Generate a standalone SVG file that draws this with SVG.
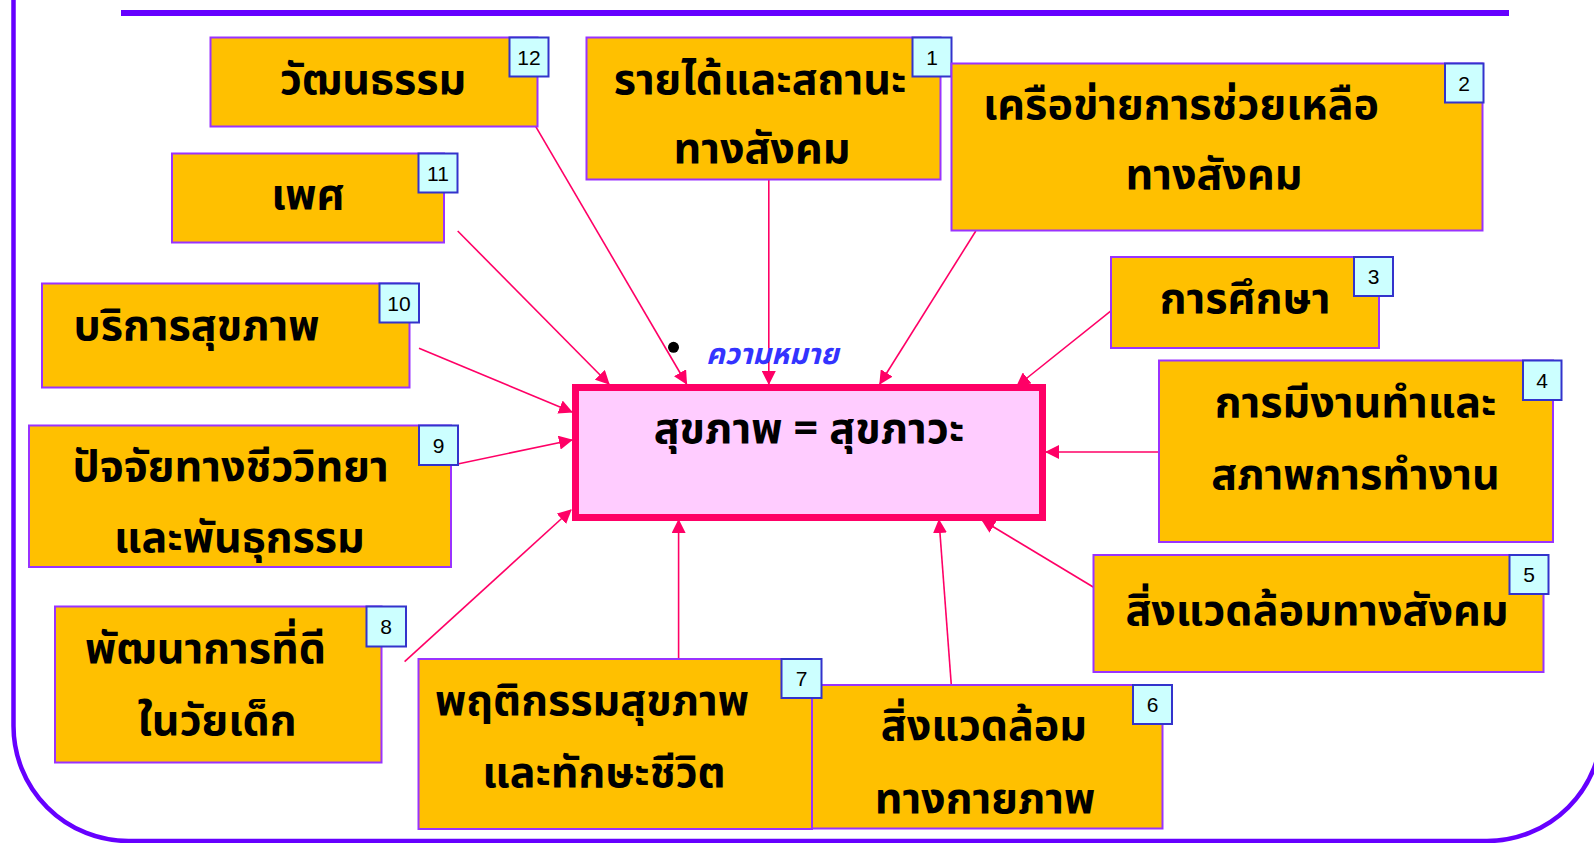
<svg xmlns="http://www.w3.org/2000/svg" width="1594" height="843" viewBox="0 0 1594 843">
<style>
.box{fill:#FFC000;stroke:#9933FF;stroke-width:2}
.badge{fill:#CCFFFF;stroke:#3333CC;stroke-width:2}
.num{font-family:"Liberation Sans",Arial,sans-serif;font-size:21px;fill:#000;text-anchor:middle}
.t{font-family:"Noto Sans Thai","Noto Sans","DejaVu Sans",sans-serif;font-weight:bold;font-size:43px;fill:#000;text-anchor:middle}
.con{stroke:#FF0066;stroke-width:1.6;fill:none;marker-end:url(#ah)}
</style>
<defs>
<marker id="ah" markerUnits="userSpaceOnUse" markerWidth="14" markerHeight="14" viewBox="0 0 14 14" refX="13" refY="7" orient="auto">
<path d="M0,0 L14,7 L0,14 Z" fill="#FF0066"/>
</marker>
</defs>
<rect width="1594" height="843" fill="#FFFFFF"/>
<path d="M13.5,-5 L13.5,726 A115,115 0 0 0 128.5,841 L1487,841 A115,115 0 0 0 1602,726 L1602,-5" fill="none" stroke="#6600FF" stroke-width="4.5"/>
<line x1="121" y1="13" x2="1509" y2="13" stroke="#6600FF" stroke-width="6"/>

<g id="connectors">
<line class="con" x1="535.8" y1="126.7" x2="686.6" y2="384"/>
<line class="con" x1="457.7" y1="231" x2="609" y2="384"/>
<line class="con" x1="768.8" y1="179.3" x2="768.8" y2="384"/>
<line class="con" x1="975.8" y1="231" x2="879.8" y2="384"/>
<line class="con" x1="1135" y1="291.7" x2="1017" y2="386"/>
<line class="con" x1="1184.5" y1="452" x2="1046" y2="452"/>
<line class="con" x1="1093.6" y1="587.3" x2="982" y2="520"/>
<line class="con" x1="951.3" y1="685" x2="939" y2="520"/>
<line class="con" x1="678.6" y1="659" x2="678.6" y2="520"/>
<line class="con" x1="404.6" y1="661.7" x2="571" y2="510"/>
<line class="con" x1="457.7" y1="464" x2="572" y2="440"/>
<line class="con" x1="419" y1="348.3" x2="572" y2="412"/>
</g>

<g id="center">
<rect x="575.5" y="387.5" width="467" height="130" fill="#FFCCFF" stroke="#FF0066" stroke-width="7"/>
<text class="t" x="809" y="443">สุขภาพ = สุขภาวะ</text>
</g>

<g id="meaning">
<circle cx="673.5" cy="347.3" r="5.5" fill="#000"/>
<text x="706" y="364" font-family="Noto Sans Thai,Noto Sans,DejaVu Sans,sans-serif" font-style="italic" font-weight="bold" font-size="29" fill="#3333FF">ความหมาย</text>
</g>

<g id="n12">
<rect class="box" x="210.5" y="37.5" width="327" height="89"/>
<text class="t" x="373" y="94">วัฒนธรรม</text>
<rect class="badge" x="509.5" y="37.5" width="39" height="39"/>
<text class="num" x="529" y="65">12</text>
</g>

<g id="n11">
<rect class="box" x="172" y="153.5" width="272" height="89"/>
<text class="t" x="308" y="209">เพศ</text>
<rect class="badge" x="418.5" y="153.5" width="39" height="39"/>
<text class="num" x="438" y="181">11</text>
</g>

<g id="n1">
<rect class="box" x="586.5" y="37.5" width="354" height="142"/>
<text class="t" x="760" y="94">รายได้และสถานะ</text>
<text class="t" x="762" y="163">ทางสังคม</text>
<rect class="badge" x="912.5" y="37.5" width="39" height="39"/>
<text class="num" x="932" y="65">1</text>
</g>

<g id="n2">
<rect class="box" x="951.5" y="63.5" width="531" height="167"/>
<text class="t" x="1181" y="119">เครือข่ายการช่วยเหลือ</text>
<text class="t" x="1214" y="189">ทางสังคม</text>
<rect class="badge" x="1445" y="63.5" width="38.5" height="39"/>
<text class="num" x="1464" y="91">2</text>
</g>

<g id="n3">
<rect class="box" x="1111" y="257" width="268" height="91"/>
<text class="t" x="1245" y="313">การศึกษา</text>
<rect class="badge" x="1354" y="257" width="39" height="39"/>
<text class="num" x="1373.5" y="284">3</text>
</g>

<g id="n4">
<rect class="box" x="1159" y="360.5" width="394" height="181.5"/>
<text class="t" x="1355.5" y="417">การมีงานทำและ</text>
<text class="t" x="1355.5" y="489">สภาพการทำงาน</text>
<rect class="badge" x="1523" y="360.5" width="38.5" height="39.5"/>
<text class="num" x="1542" y="388">4</text>
</g>

<g id="n5">
<rect class="box" x="1093.5" y="555" width="450" height="117"/>
<text class="t" x="1317" y="625">สิ่งแวดล้อมทางสังคม</text>
<rect class="badge" x="1509.5" y="555" width="39" height="39"/>
<text class="num" x="1529" y="582">5</text>
</g>

<g id="n6">
<rect class="box" x="812" y="685" width="350.5" height="143.5"/>
<text class="t" x="984" y="740">สิ่งแวดล้อม</text>
<text class="t" x="985" y="813">ทางกายภาพ</text>
<rect class="badge" x="1133" y="685" width="39" height="39"/>
<text class="num" x="1152.5" y="712">6</text>
</g>

<g id="n7">
<rect class="box" x="418.5" y="659" width="393.5" height="170"/>
<text class="t" x="592" y="715">พฤติกรรมสุขภาพ</text>
<text class="t" x="604" y="787">และทักษะชีวิต</text>
<rect class="badge" x="781.5" y="659" width="40" height="39"/>
<text class="num" x="801.5" y="686">7</text>
</g>

<g id="n8">
<rect class="box" x="55" y="606.5" width="326.5" height="156"/>
<text class="t" x="205.5" y="663">พัฒนาการที่ดี</text>
<text class="t" x="217" y="735">ในวัยเด็ก</text>
<rect class="badge" x="366.5" y="606.5" width="39.5" height="40"/>
<text class="num" x="386" y="634">8</text>
</g>

<g id="n9">
<rect class="box" x="29" y="425.5" width="422" height="141.5"/>
<text class="t" x="230.5" y="481">ปัจจัยทางชีววิทยา</text>
<text class="t" x="239.5" y="552">และพันธุกรรม</text>
<rect class="badge" x="419" y="425.5" width="39" height="39.5"/>
<text class="num" x="438.5" y="453">9</text>
</g>

<g id="n10">
<rect class="box" x="42" y="283.5" width="367.5" height="104"/>
<text class="t" x="196.5" y="340">บริการสุขภาพ</text>
<rect class="badge" x="379.5" y="283.5" width="39.5" height="39"/>
<text class="num" x="399" y="311">10</text>
</g>
</svg>
